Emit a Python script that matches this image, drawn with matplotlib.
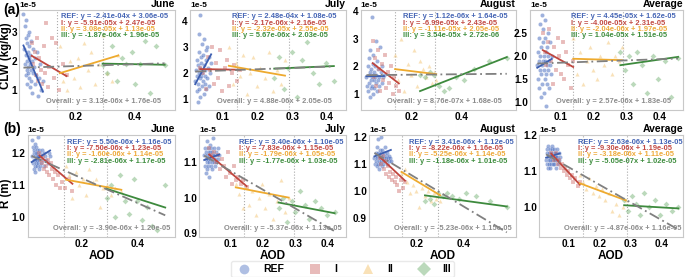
import matplotlib as mpl
mpl.use('Agg')
import matplotlib.pyplot as plt
from matplotlib.lines import Line2D
import numpy as np

plt.rcParams['font.family'] = ['Liberation Sans', 'DejaVu Sans']
plt.rcParams['font.weight'] = 'bold'
plt.rcParams['axes.unicode_minus'] = False

months = ['June', 'July', 'August', 'Average']
groups = ['REF', 'I', 'II', 'III']

# AOD of the samples (shared by CLW and R panels), CLW and R given in units of 1e-5
jun_ref_x = [0.022, 0.025, 0.027, 0.028, 0.030, 0.030, 0.031, 0.032, 0.033, 0.034, 0.035, 0.035, 0.036, 0.037,
             0.038, 0.039, 0.040, 0.040, 0.041, 0.042, 0.043, 0.044, 0.045, 0.046, 0.047, 0.048, 0.050, 0.051,
             0.053, 0.055, 0.057, 0.060, 0.062, 0.065, 0.068, 0.071, 0.075, 0.079, 0.083, 0.088]
jun_ref_clw = [3.6, 2.4, 3.2, 1.9, 2.8, 1.5, 2.2, 3.4, 1.7, 2.6, 2.0, 1.2, 2.9, 1.8, 2.3, 1.6, 2.1, 3.0, 1.4, 2.5,
               1.9, 1.1, 2.2, 1.7, 2.7, 1.3, 2.0, 0.9, 2.4, 1.6, 1.8, 2.1, 1.2, 1.5, 2.3, 0.8, 1.4, 1.9, 1.0, 1.3]
jun_ref_r = [1.24, 1.19, 1.22, 1.17, 1.20, 1.15, 1.21, 1.18, 1.23, 1.16, 1.19, 1.14, 1.22, 1.18, 1.20, 1.17, 1.21,
             1.19, 1.16, 1.20, 1.18, 1.25, 1.17, 1.19, 1.21, 1.15, 1.18, 1.20, 1.16, 1.19, 1.17, 1.21, 1.18, 1.20,
             1.16, 1.19, 1.18, 1.17, 1.20, 1.19]
jun_i_x = [0.050, 0.055, 0.060, 0.064, 0.068, 0.072, 0.076, 0.080, 0.085, 0.090, 0.095, 0.100, 0.105, 0.110,
           0.118, 0.125, 0.132, 0.142, 0.155, 0.168]
jun_i_clw = [2.6, 1.9, 2.3, 1.5, 2.8, 1.3, 2.1, 1.7, 1.2, 2.5, 1.6, 3.3, 1.1, 1.8, 2.8, 1.4, 2.6, 1.0, 1.9, 1.5]
jun_i_r = [1.20, 1.18, 1.17, 1.19, 1.15, 1.16, 1.14, 1.18, 1.13, 1.17, 1.15, 1.12, 1.14, 1.10, 1.13, 1.09, 1.11,
           1.09, 1.12, 1.08]
jun_ii_x = [0.145, 0.155, 0.168, 0.180, 0.192, 0.205, 0.215, 0.228, 0.240, 0.252, 0.265, 0.278, 0.290, 0.305,
            0.322, 0.343]
jun_ii_clw = [2.5, 1.3, 1.0, 2.0, 1.4, 2.1, 1.1, 2.6, 1.7, 2.3, 1.2, 1.9, 2.9, 1.6, 1.3, 2.2]
jun_ii_r = [1.16, 1.13, 1.06, 1.14, 1.10, 1.12, 1.07, 1.15, 1.11, 1.12, 1.03, 1.09, 1.10, 1.07, 1.09, 1.08]
jun_iii_x = [0.290, 0.305, 0.322, 0.340, 0.355, 0.370, 0.388, 0.400, 0.418, 0.435, 0.452, 0.470, 0.500]
jun_iii_clw = [1.85, 1.6, 2.5, 1.3, 2.1, 1.9, 2.3, 1.2, 1.9, 2.7, 0.9, 2.5, 1.85]
jun_iii_r = [1.06, 1.10, 1.00, 1.13, 1.05, 1.01, 1.12, 1.05, 0.99, 1.03, 0.97, 0.96, 1.10]

jul_ref_x = [0.020, 0.022, 0.024, 0.025, 0.026, 0.027, 0.028, 0.029, 0.030, 0.030, 0.031, 0.032, 0.033, 0.034,
             0.035, 0.035, 0.036, 0.037, 0.038, 0.039, 0.040, 0.041, 0.042, 0.043, 0.044, 0.045, 0.046, 0.047,
             0.048, 0.049, 0.050, 0.051, 0.052, 0.054, 0.055, 0.057, 0.059, 0.061, 0.063, 0.066]
jul_ref_clw = [1.7, 2.1, 1.3, 2.5, 1.9, 0.9, 2.3, 1.6, 2.8, 2.0, 1.4, 3.5, 2.2, 1.8, 4.2, 1.1, 2.6, 1.9, 2.4, 1.5,
               3.1, 2.0, 1.7, 2.7, 1.2, 2.3, 3.3, 1.9, 2.1, 1.6, 2.9, 1.4, 2.5, 1.8, 3.0, 2.2, 1.5, 2.6, 2.0, 2.4]
jul_ref_r = [1.12, 1.09, 1.14, 1.11, 1.07, 1.13, 1.10, 1.16, 1.12, 1.08, 1.11, 1.14, 1.09, 1.13, 1.06, 1.12, 1.10,
             1.15, 1.11, 1.13, 1.09, 1.12, 1.14, 1.10, 1.08, 1.13, 1.11, 1.12, 1.17, 1.10, 1.14, 1.12, 1.09, 1.11,
             1.13, 1.10, 1.12, 1.14, 1.11, 1.12]
jul_i_x = [0.035, 0.042, 0.050, 0.056, 0.062, 0.068, 0.074, 0.080, 0.086, 0.092, 0.098, 0.105, 0.112, 0.118,
           0.125, 0.132, 0.140, 0.150]
jul_i_clw = [2.2, 2.0, 1.4, 2.6, 2.1, 3.0, 1.6, 2.4, 1.8, 2.9, 1.3, 2.2, 2.5, 1.5, 2.0, 2.3, 1.7, 2.1]
jul_i_r = [1.14, 1.12, 1.13, 1.10, 1.12, 1.08, 1.11, 1.09, 1.06, 1.13, 1.07, 1.04, 1.09, 1.05, 1.06, 1.04, 1.05,
           1.03]
jul_ii_x = [0.117, 0.128, 0.138, 0.148, 0.158, 0.168, 0.178, 0.188, 0.198, 0.208, 0.220, 0.232, 0.244, 0.256,
            0.268, 0.279]
jul_ii_clw = [3.0, 1.6, 2.4, 1.9, 2.7, 1.2, 2.0, 2.6, 1.5, 2.2, 1.8, 2.8, 1.3, 2.1, 1.6, 2.5]
jul_ii_r = [1.04, 1.01, 0.97, 1.03, 0.98, 1.02, 0.95, 1.00, 1.04, 0.97, 1.01, 0.94, 0.99, 1.05, 0.96, 1.00]
jul_iii_x = [0.248, 0.262, 0.275, 0.288, 0.300, 0.315, 0.328, 0.342, 0.360, 0.378, 0.398, 0.420]
jul_iii_clw = [1.8, 2.6, 1.4, 2.2, 2.8, 1.1, 2.5, 3.2, 2.0, 1.6, 2.4, 1.7]
jul_iii_r = [0.97, 1.00, 0.93, 0.99, 0.96, 1.02, 0.98, 0.94, 0.99, 0.97, 0.95, 0.96]

aug_ref_x = [0.020, 0.023, 0.025, 0.027, 0.029, 0.030, 0.032, 0.033, 0.035, 0.036, 0.037, 0.038, 0.040, 0.041,
             0.042, 0.043, 0.045, 0.046, 0.047, 0.048, 0.050, 0.051, 0.052, 0.054, 0.055, 0.057, 0.058, 0.060,
             0.062, 0.064, 0.066, 0.068, 0.070, 0.072, 0.075, 0.078, 0.081, 0.084, 0.087, 0.090]
aug_ref_clw = [1.6, 1.3, 2.0, 1.1, 1.7, 2.3, 1.4, 0.9, 1.8, 2.6, 1.5, 1.2, 1.9, 1.6, 3.8, 1.3, 2.1, 1.7, 1.0, 2.4,
               1.5, 1.8, 1.2, 2.0, 1.6, 2.9, 1.4, 1.7, 1.1, 2.2, 1.5, 1.9, 1.3, 1.6, 2.7, 1.8, 1.4, 2.0, 1.6, 1.7]
aug_ref_r = [1.12, 1.10, 1.14, 1.11, 1.16, 1.09, 1.13, 1.12, 1.19, 1.10, 1.14, 1.11, 1.13, 1.08, 1.15, 1.12, 1.10,
             1.14, 1.11, 1.20, 1.13, 1.09, 1.12, 1.15, 1.11, 1.13, 1.10, 1.14, 1.12, 1.16, 1.11, 1.13, 1.12, 1.10,
             1.14, 1.12, 1.11, 1.13, 1.12, 1.11]
aug_i_x = [0.045, 0.050, 0.055, 0.060, 0.065, 0.070, 0.076, 0.082, 0.088, 0.094, 0.100, 0.106, 0.112, 0.118,
           0.125, 0.132, 0.140, 0.150]
aug_i_clw = [2.9, 1.6, 2.3, 1.3, 2.6, 1.9, 1.1, 2.1, 1.5, 2.4, 1.2, 1.8, 1.4, 2.0, 1.0, 1.6, 1.3, 1.1]
aug_i_r = [1.12, 1.10, 1.13, 1.08, 1.11, 1.06, 1.09, 1.05, 1.07, 1.04, 1.06, 1.03, 1.05, 1.02, 1.00, 1.04, 1.01,
           1.03]
aug_ii_x = [0.135, 0.148, 0.160, 0.172, 0.185, 0.198, 0.210, 0.222, 0.235, 0.248, 0.260, 0.272, 0.283, 0.292,
            0.300]
aug_ii_clw = [2.4, 1.5, 3.0, 1.1, 2.1, 1.7, 2.6, 1.3, 2.2, 1.9, 1.6, 2.0, 1.4, 1.8, 1.5]
aug_ii_r = [1.06, 1.08, 1.03, 0.99, 1.02, 1.00, 0.94, 1.01, 0.98, 1.00, 0.96, 0.99, 0.97, 0.98, 0.96]
aug_iii_x = [0.235, 0.255, 0.275, 0.290, 0.310, 0.330, 0.350, 0.380, 0.410, 0.450, 0.510, 0.583]
aug_iii_clw = [1.7, 1.6, 1.8, 1.7, 1.3, 1.1, 1.2, 1.6, 1.5, 1.9, 2.2, 2.3]
aug_iii_r = [0.96, 0.97, 0.95, 0.99, 0.98, 0.99, 0.98, 0.97, 0.99, 0.98, 0.96, 0.94]

avg_ref_x = [0.028, 0.030, 0.031, 0.032, 0.033, 0.034, 0.035, 0.036, 0.037, 0.038, 0.039, 0.040, 0.041, 0.042,
             0.043, 0.044, 0.045, 0.046, 0.047, 0.048, 0.049, 0.050, 0.051, 0.052, 0.053, 0.054, 0.055, 0.056,
             0.057, 0.058, 0.059, 0.060, 0.061, 0.062, 0.063, 0.064, 0.066, 0.068, 0.070, 0.072]
avg_ref_clw = [1.8, 2.1, 1.5, 2.4, 1.9, 1.3, 2.7, 1.7, 2.0, 1.1, 2.2, 1.6, 2.9, 1.8, 1.4, 2.3, 1.9, 2.6, 1.2, 2.0,
               1.7, 2.4, 1.5, 1.9, 2.8, 1.6, 2.1, 0.9, 1.8, 2.2, 1.4, 2.0, 2.5, 1.7, 1.9, 1.3, 2.3, 1.8, 1.6, 2.0]
avg_ref_r = [1.13, 1.15, 1.12, 1.16, 1.14, 1.11, 1.17, 1.13, 1.15, 1.12, 1.14, 1.16, 1.13, 1.11, 1.15, 1.14, 1.12,
             1.16, 1.13, 1.17, 1.14, 1.12, 1.15, 1.13, 1.14, 1.16, 1.12, 1.15, 1.14, 1.13, 1.15, 1.11, 1.14, 1.13,
             1.16, 1.14, 1.12, 1.15, 1.13, 1.14]
avg_i_x = [0.045, 0.050, 0.055, 0.060, 0.065, 0.070, 0.075, 0.080, 0.085, 0.090, 0.095, 0.100, 0.105, 0.110,
           0.116, 0.122, 0.130, 0.137]
avg_i_clw = [2.5, 2.1, 1.8, 2.3, 2.6, 1.9, 1.4, 2.2, 1.7, 2.4, 2.0, 1.6, 2.3, 1.5, 2.1, 1.8, 1.3, 1.9]
avg_i_r = [1.15, 1.14, 1.13, 1.15, 1.12, 1.13, 1.11, 1.12, 1.10, 1.11, 1.09, 1.10, 1.08, 1.09, 1.07, 1.08, 1.06,
           1.07]
avg_ii_x = [0.137, 0.148, 0.158, 0.168, 0.178, 0.188, 0.198, 0.208, 0.218, 0.230, 0.242, 0.254, 0.264, 0.275,
            0.285]
avg_ii_clw = [2.4, 1.6, 2.1, 1.4, 1.9, 2.2, 1.7, 1.5, 2.0, 1.8, 2.3, 1.6, 2.0, 1.9, 2.2]
avg_ii_r = [1.09, 1.07, 1.05, 1.08, 1.04, 1.06, 1.03, 1.05, 1.02, 1.04, 0.99, 1.01, 0.98, 1.00, 1.02]
avg_iii_x = [0.280, 0.293, 0.305, 0.318, 0.330, 0.345, 0.360, 0.378, 0.395, 0.415, 0.435, 0.455]
avg_iii_clw = [2.1, 1.7, 2.0, 1.4, 2.1, 1.8, 1.2, 2.0, 1.5, 1.9, 1.1, 1.95]
avg_iii_r = [1.02, 0.99, 1.03, 1.01, 0.98, 1.04, 1.00, 1.02, 0.98, 1.01, 0.99, 1.00]

# regression fits (slope, intercept) for REF, I, II, III and overall
clw_fit_jun = [(-2.41e-04, 3.06e-05), (-5.91e-05, 2.47e-05), (3.08e-05, 1.13e-05), (-1.87e-06, 1.96e-05)]
clw_fit_jul = [(2.48e-04, 1.08e-05), (-2.17e-06, 2.16e-05), (-2.32e-05, 2.55e-05), (5.67e-06, 2.03e-05)]
clw_fit_aug = [(1.12e-06, 1.64e-05), (-6.99e-05, 2.43e-05), (-1.11e-05, 2.05e-05), (3.54e-05, 2.72e-06)]
clw_fit_avg = [(4.45e-05, 1.62e-05), (-4.00e-05, 2.31e-05), (-2.04e-06, 1.97e-05), (1.04e-05, 1.51e-05)]
clw_overall = [(3.13e-06, 1.76e-05), (4.88e-06, 2.05e-05), (8.76e-07, 1.68e-05), (2.57e-06, 1.83e-05)]
r_fit_jun = [(5.50e-06, 1.16e-05), (-7.50e-06, 1.23e-05), (-1.60e-06, 1.14e-05), (-2.81e-06, 1.17e-05)]
r_fit_jul = [(3.40e-06, 1.10e-05), (-7.83e-06, 1.15e-05), (-1.79e-06, 1.05e-05), (-1.77e-06, 1.03e-05)]
r_fit_aug = [(3.41e-06, 1.12e-05), (-8.22e-06, 1.16e-05), (-5.25e-06, 1.14e-05), (-1.18e-06, 1.01e-05)]
r_fit_avg = [(2.63e-06, 1.13e-05), (-9.30e-06, 1.19e-05), (-3.18e-06, 1.11e-05), (-5.05e-07, 1.02e-05)]
r_overall = [(-3.90e-06, 1.20e-05), (-5.37e-06, 1.13e-05), (-5.23e-06, 1.15e-05), (-4.87e-06, 1.16e-05)]

# AOD group boundaries (dotted lines)
clw_bounds = [(0.137, 0.290), (0.142, 0.292), (0.135, 0.296), (0.137, 0.288)]
r_bounds = [(0.137, 0.292), (0.142, 0.296), (0.137, 0.289), (0.146, 0.288)]

aod_x = [[jun_ref_x, jun_i_x, jun_ii_x, jun_iii_x], [jul_ref_x, jul_i_x, jul_ii_x, jul_iii_x],
         [aug_ref_x, aug_i_x, aug_ii_x, aug_iii_x], [avg_ref_x, avg_i_x, avg_ii_x, avg_iii_x]]
clw_y = [[jun_ref_clw, jun_i_clw, jun_ii_clw, jun_iii_clw], [jul_ref_clw, jul_i_clw, jul_ii_clw, jul_iii_clw],
         [aug_ref_clw, aug_i_clw, aug_ii_clw, aug_iii_clw], [avg_ref_clw, avg_i_clw, avg_ii_clw, avg_iii_clw]]
r_y = [[jun_ref_r, jun_i_r, jun_ii_r, jun_iii_r], [jul_ref_r, jul_i_r, jul_ii_r, jul_iii_r],
       [aug_ref_r, aug_i_r, aug_ii_r, aug_iii_r], [avg_ref_r, avg_i_r, avg_ii_r, avg_iii_r]]
clw_fits = [clw_fit_jun, clw_fit_jul, clw_fit_aug, clw_fit_avg]
r_fits = [r_fit_jun, r_fit_jul, r_fit_aug, r_fit_avg]

pt_colors = ['#4f72c2', '#cc6a66', '#f2bd60', '#6aac6a']
pt_alpha = [0.55, 0.45, 0.45, 0.45]
line_colors = ['#3c5eb0', '#c0463e', '#eeaa2e', '#3d8a3d']
txt_colors = ['#4565b5', '#c24a44', '#eeaa3a', '#3f8e3f']
markers = ['o', 's', '^', 'D']
gray = '#808080'

W, H = 685, 277
top_px = [(19.3, 175), (190, 346), (360.7, 516), (530, 683)]
bot_px = [(27.7, 175), (199.3, 346), (369, 515.5), (539.3, 683)]
top_row = (10, 110)
bot_row = (135, 237)
xlims = [(0.008, 0.535), (0.005, 0.455), (-0.003, 0.62), (0.006, 0.47)]
xticks = [[0.2, 0.4], [0.1, 0.2, 0.3, 0.4], [0.2, 0.4], [0.1, 0.2, 0.3, 0.4]]
top_ylims = [(0.31, 3.75), (0.59, 4.41), (0.42, 4.04), (0.82, 3.01)]
top_yticks = [[1, 2, 3], [1, 2, 3, 4], [1, 2, 3, 4], [1.0, 1.5, 2.0, 2.5]]
top_fmt = ['%d', '%d', '%d', '%.1f']
bot_ylims = [(0.937, 1.257), (0.888, 1.178), (0.828, 1.206), (0.918, 1.194)]
bot_yticks = [[1.0, 1.1, 1.2], [0.9, 1.0, 1.1], [0.9, 1.0, 1.1, 1.2], [1.0, 1.1, 1.2]]

fig = plt.figure(figsize=(W / 100, H / 100), dpi=100)


def draw_panel(ax, xs, ys, fits, overall, bounds, title):
    for b in bounds:
        ax.axvline(b, color='#aaaaaa', ls=':', lw=0.8, zorder=1)
    for k in range(4):
        ax.scatter(xs[k], ys[k], s=9, marker=markers[k], color=pt_colors[k], alpha=pt_alpha[k],
                   edgecolors='white', linewidths=0.2, zorder=2)
    for k in range(4):
        xx = np.array([min(xs[k]), max(xs[k])])
        s, b = fits[k]
        ax.plot(xx, (s * xx + b) / 1e-5, color=line_colors[k], lw=1.3, zorder=3)
    allx = np.concatenate([np.array(v) for v in xs])
    xx = np.array([allx.min(), allx.max()])
    s, b = overall
    ax.plot(xx, (s * xx + b) / 1e-5, color=gray, lw=1.3, ls=(0, (6, 2, 1, 2)), zorder=4)
    for k in range(4):
        s, b = fits[k]
        ax.text(0.27, 0.965 - k * 0.062, '%s: y = %.2ex + %.2e' % (groups[k], s, b),
                transform=ax.transAxes, fontsize=5.4, color=txt_colors[k], ha='left', va='top',
                fontweight='bold', zorder=5)
    s, b = overall
    ax.text(0.17, 0.085, 'Overall: y = %.2ex + %.2e' % (s, b), transform=ax.transAxes, fontsize=5.4,
            color='#8c8c8c', ha='left', va='center', fontweight='bold', zorder=5)
    ax.text(0.0, 1.01, '1e-5', transform=ax.transAxes, fontsize=6, ha='left', va='bottom', fontweight='bold')
    ax.text(1.0, 1.01, title, transform=ax.transAxes, fontsize=7.5, ha='right', va='bottom', fontweight='bold')
    for sp in ax.spines.values():
        sp.set_color('#c8c8c8')
        sp.set_linewidth(0.8)
    ax.tick_params(length=0, pad=1.5, labelsize=7.2)
    for lab in ax.get_xticklabels() + ax.get_yticklabels():
        lab.set_fontweight('bold')


for j in range(4):
    l, r = top_px[j]
    ax = fig.add_axes([l / W, 1 - top_row[1] / H, (r - l) / W, (top_row[1] - top_row[0]) / H])
    ax.set_xlim(*xlims[j])
    ax.set_ylim(*top_ylims[j])
    ax.set_xticks(xticks[j])
    ax.set_xticklabels(['%.1f' % t for t in xticks[j]])
    ax.set_yticks(top_yticks[j])
    ax.set_yticklabels([top_fmt[j] % t for t in top_yticks[j]])
    draw_panel(ax, aod_x[j], clw_y[j], clw_fits[j], clw_overall[j], clw_bounds[j], months[j])

    l, r = bot_px[j]
    ax = fig.add_axes([l / W, 1 - bot_row[1] / H, (r - l) / W, (bot_row[1] - bot_row[0]) / H])
    ax.set_xlim(*xlims[j])
    ax.set_ylim(*bot_ylims[j])
    ax.set_xticks(xticks[j])
    ax.set_xticklabels(['%.1f' % t for t in xticks[j]])
    ax.set_yticks(bot_yticks[j])
    ax.set_yticklabels(['%.1f' % t for t in bot_yticks[j]])
    draw_panel(ax, aod_x[j], r_y[j], r_fits[j], r_overall[j], r_bounds[j], months[j])
    ax.set_xlabel('AOD', fontsize=8.5, fontweight='bold', labelpad=0.5)

fig.text(6 / W, 1 - 56 / H, 'CLW (kg/kg)', rotation=90, fontsize=8.3, fontweight='bold',
         ha='center', va='center')
fig.text(6 / W, 1 - 193 / H, 'R (m)', rotation=90, fontsize=8.3, fontweight='bold',
         ha='center', va='center')
fig.text(3 / W, 1 - 3 / H, '(a)', fontsize=10, fontweight='bold', ha='left', va='top')
fig.text(3 / W, 1 - 122 / H, '(b)', fontsize=10, fontweight='bold', ha='left', va='top')

handles = [Line2D([], [], ls='none', marker=markers[k], color=pt_colors[k], alpha=0.45, markersize=7,
                  markeredgewidth=0) for k in range(4)]
fig.legend(handles, groups, loc='lower center', bbox_to_anchor=(0.5, -0.02), ncol=4,
           prop={'weight': 'bold', 'size': 7.5}, frameon=True, edgecolor='#e4e4e4', handletextpad=0.8,
           columnspacing=2.0, borderpad=0.3)

fig.savefig('out.png', dpi=100)
